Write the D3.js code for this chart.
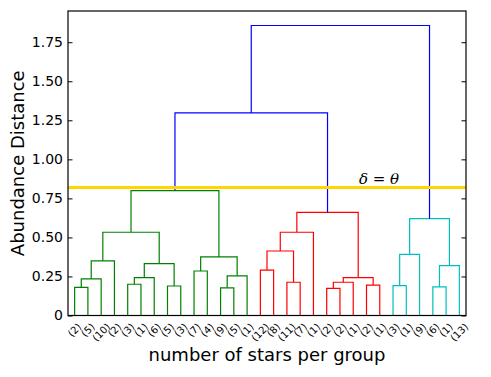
<!DOCTYPE html>
<html>
<head>
<meta charset="utf-8">
<script src="https://cdn.jsdelivr.net/npm/d3@7"></script>
<style>
html, body { margin: 0; padding: 0; background: #fff; overflow: hidden; }
svg { display: block; }
text { font-family: "DejaVu Sans", sans-serif; fill: #000; }
</style>
</head>
<body>
<svg width="491" height="377"></svg>
<script>
// leaf labels, left to right
var leafLabels = ["(2)","(5)","(10)","(2)","(3)","(1)","(6)","(5)","(3)","(7)","(4)","(9)","(5)","(1)",
  "(12)","(8)","(11)","(7)","(1)","(2)","(2)","(1)","(2)","(1)",
  "(3)","(1)","(9)","(6)","(1)","(13)"];
// merges (ids 0-29 are leaves, merge k gets id 30+k)
var mergeLeft   = [0, 30, 31, 4, 33, 7, 34, 32, 9, 11, 39, 38, 37, 14, 16, 43, 45, 19, 47, 22, 48, 46, 24, 52, 27, 54, 53, 42, 57];
var mergeRight  = [1, 2, 3, 5, 6, 8, 35, 36, 10, 12, 13, 40, 41, 15, 17, 44, 18, 20, 21, 23, 49, 50, 25, 26, 28, 29, 55, 51, 56];
var mergeHeight = [0.18, 0.235, 0.35, 0.20, 0.242, 0.189, 0.332, 0.533, 0.285, 0.177, 0.254, 0.375, 0.80,
  0.291, 0.213, 0.413, 0.533, 0.174, 0.213, 0.195, 0.242, 0.661,
  0.191, 0.392, 0.183, 0.319, 0.620, 1.297, 1.857];
var mergeColor  = ["g","g","g","g","g","g","g","g","g","g","g","g","g",
  "r","r","r","r","r","r","r","r","r",
  "c","c","c","c","c","b","b"];
var yTicks = [0, 0.25, 0.5, 0.75, 1.0, 1.25, 1.5, 1.75];
var yTickLabels = ["0", "0.25", "0.50", "0.75", "1.00", "1.25", "1.50", "1.75"];
var cutHeight = 0.819;
var cutLabel = "δ = θ";
var yAxisLabel = "Abundance Distance";
var xAxisLabel = "number of stars per group";

var colorMap = { g: "#008000", r: "#ff0000", c: "#00bfbf", b: "#0000ff" };

var svg = d3.select("svg");
var margin = { top: 11, right: 25, bottom: 61.5, left: 68 };
var innerWidth = 491 - margin.left - margin.right;
var innerHeight = 377 - margin.top - margin.bottom;

var n = leafLabels.length;
var xScale = d3.scaleLinear().domain([0, n * 10]).range([0, innerWidth]);
var yScale = d3.scaleLinear().domain([0, 1.95]).range([innerHeight, 0]);

var g = svg.append("g").attr("transform", `translate(${margin.left},${margin.top})`);

// node positions
var pos = [];
for (let i = 0; i < n; i++) pos.push({ x: i * 10 + 5, h: 0 });
for (let k = 0; k < mergeLeft.length; k++) {
  var l = pos[mergeLeft[k]], r = pos[mergeRight[k]];
  pos.push({ x: (l.x + r.x) / 2, h: mergeHeight[k] });
}

var links = mergeLeft.map(function (d, k) {
  return { l: pos[d], r: pos[mergeRight[k]], h: mergeHeight[k], c: mergeColor[k] };
});

g.selectAll("path.link").data(links).enter().append("path")
  .attr("class", "link")
  .attr("fill", "none")
  .attr("stroke", d => colorMap[d.c])
  .attr("stroke-width", 1.2)
  .attr("d", d => "M" + xScale(d.l.x) + "," + yScale(d.l.h) + "V" + yScale(d.h) +
    "H" + xScale(d.r.x) + "V" + yScale(d.r.h));

// cut line
g.append("line").attr("x1", 0).attr("x2", innerWidth)
  .attr("y1", yScale(cutHeight)).attr("y2", yScale(cutHeight))
  .attr("stroke", "#ffd700").attr("stroke-width", 3);
g.append("text").attr("x", 311).attr("y", yScale(cutHeight) - 3.5)
  .style("font-family", "'DejaVu Serif', serif").style("font-style", "italic")
  .attr("font-size", "15px").attr("text-anchor", "middle").text(cutLabel);

// axes
var yAxis = d3.axisLeft(yScale).tickValues(yTicks).tickFormat((d, i) => yTickLabels[i])
  .tickSizeInner(-4.5).tickSizeOuter(0).tickPadding(5);
var yAxisG = g.append("g").call(yAxis);
yAxisG.select(".domain").remove();
yAxisG.selectAll("text").attr("font-size", "14px").style("font-family", "'DejaVu Sans', sans-serif");

var yAxisR = d3.axisRight(yScale).tickValues(yTicks).tickFormat("").tickSizeInner(-4.5).tickSizeOuter(0);
var yAxisRG = g.append("g").attr("transform", `translate(${innerWidth},0)`).call(yAxisR);
yAxisRG.select(".domain").remove();

g.append("rect").attr("width", innerWidth).attr("height", innerHeight)
  .attr("fill", "none").attr("stroke", "#000").attr("stroke-width", 1.2);

// leaf labels rotated 45 degrees, centred under each leaf
var leafG = g.selectAll("g.leaf").data(leafLabels).enter().append("g").attr("class", "leaf");
leafG.append("text")
  .attr("font-size", "10px")
  .attr("text-anchor", "middle").attr("dy", "0.35em")
  .attr("transform", "rotate(-45)")
  .text(d => d);
leafG.attr("transform", function (d, i) {
  var w = this.firstChild.getComputedTextLength();
  var bh = (w + 10) / Math.SQRT2;
  return `translate(${xScale(i * 10 + 5)},${innerHeight + 6 + bh / 2})`;
});

// axis labels
svg.append("text").attr("x", margin.left + innerWidth / 2).attr("y", 361)
  .attr("text-anchor", "middle").attr("font-size", "18px").text(xAxisLabel);
svg.append("text").attr("transform", `translate(24,${margin.top + innerHeight / 2}) rotate(-90)`)
  .attr("text-anchor", "middle").attr("font-size", "18px").text(yAxisLabel);
</script>
</body>
</html>
